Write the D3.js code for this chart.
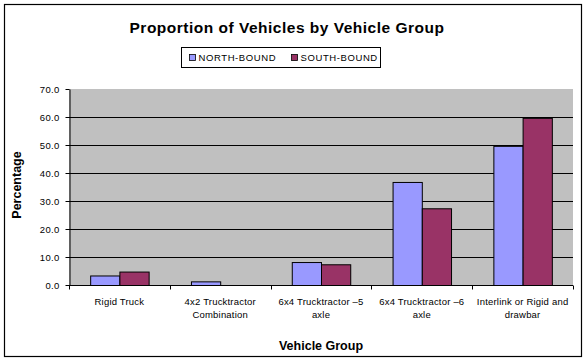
<!DOCTYPE html>
<html>
<head>
<meta charset="utf-8">
<script src="https://cdn.jsdelivr.net/npm/d3@7"></script>
<style>
  body { margin: 0; background: #fff; }
  svg { display: block; font-family: Arial, "Liberation Sans", sans-serif; }
</style>
</head>
<body>
<svg width="587" height="361"></svg>
<script>
// chart data
var categories = [
    ["Rigid Truck"],
    ["4x2 Trucktractor", "Combination"],
    ["6x4 Trucktractor \u20135", "axle"],
    ["6x4 Trucktractor \u20136", "axle"],
    ["Interlink or Rigid and", "drawbar"]
];
var seriesNames = ["NORTH-BOUND", "SOUTH-BOUND"];
var northBound = [3.4, 1.3, 8.2, 36.8, 49.7];
var southBound = [4.8, 0, 7.4, 27.4, 59.7];
var yTicks = [0, 10, 20, 30, 40, 50, 60, 70];
var colors = ["#9999FF", "#993366"];

var svg = d3.select("svg");
var margin = { top: 89, left: 69, right: 14, bottom: 76 },
    width = 587 - margin.left - margin.right,
    height = 361 - margin.top - margin.bottom;

// outer frame
svg.append("rect")
    .attr("x", 4.5).attr("y", 4.5)
    .attr("width", 577).attr("height", 352)
    .attr("fill", "#fff").attr("stroke", "#000").attr("stroke-width", 1.2);

svg.append("text")
    .attr("x", 287).attr("y", 33)
    .attr("text-anchor", "middle")
    .style("font-size", "15.5px").style("font-weight", "bold").style("letter-spacing", "0.5px")
    .text("Proportion of Vehicles by Vehicle Group");

var g = svg.append("g").attr("transform", "translate(" + margin.left + "," + margin.top + ")");

var x0 = d3.scaleBand().domain(d3.range(categories.length)).range([0, width]).paddingInner(0.42).paddingOuter(0.21);
var x1 = d3.scaleBand().domain([0, 1]).range([0, x0.bandwidth()]);
var y = d3.scaleLinear().domain([0, 70]).range([height, 0]);
var xb = d3.scaleBand().domain(d3.range(categories.length)).range([0, width]);

g.append("rect").attr("width", width).attr("height", height).attr("fill", "#C0C0C0");

// gridlines
g.selectAll(".grid").data(yTicks.slice(1, -1)).enter().append("line")
    .attr("x1", 0).attr("x2", width)
    .attr("y1", function(d) { return Math.round(y(d)) + 0.5; })
    .attr("y2", function(d) { return Math.round(y(d)) + 0.5; })
    .attr("stroke", "#000");

var rows = categories.map(function(c, i) { return { i: i, v: [northBound[i], southBound[i]] }; });
var grp = g.selectAll(".cat").data(rows).enter().append("g")
    .attr("transform", function(d) { return "translate(" + x0(d.i) + ",0)"; });
grp.selectAll("rect").data(function(d) { return d.v.map(function(v, k) { return { k: k, v: v }; }); })
    .enter().filter(function(d) { return d.v > 0; }).append("rect")
    .attr("x", function(d) { return x1(d.k) + 0.5; })
    .attr("y", function(d) { return y(d.v) + 0.5; })
    .attr("width", x1.bandwidth())
    .attr("height", function(d) { return height - y(d.v); })
    .attr("fill", function(d) { return colors[d.k]; })
    .attr("stroke", "#000").attr("stroke-width", 1);

// y axis
var yAxis = g.append("g").attr("transform", "translate(0.5,0)")
    .call(d3.axisLeft(y).tickValues(yTicks).tickFormat(d3.format(".1f")).tickSize(4).tickSizeOuter(0));
yAxis.select(".domain").attr("stroke", "#000");
yAxis.selectAll("text").style("font-size", "9.5px").style("letter-spacing", "0.3px").attr("fill", "#000").attr("x", -10);

// x axis
var xAxis = g.append("g").attr("transform", "translate(0," + (height + 0.5) + ")");
xAxis.append("line").attr("x1", 0).attr("x2", width).attr("stroke", "#000");
xAxis.selectAll(".tk").data(d3.range(categories.length + 1)).enter().append("line")
    .attr("x1", function(d) { return Math.round(d * xb.step()) + 0.5; })
    .attr("x2", function(d) { return Math.round(d * xb.step()) + 0.5; })
    .attr("y1", 0).attr("y2", 4).attr("stroke", "#000");
xAxis.selectAll(".lbl").data(categories).enter().append("text")
    .attr("text-anchor", "middle")
    .attr("transform", function(d, i) { return "translate(" + (xb(i) + xb.bandwidth() / 2) + ",0)"; })
    .style("font-size", "9.5px").style("letter-spacing", "0.2px")
    .selectAll("tspan").data(function(d) { return d; }).enter().append("tspan")
    .attr("x", 0).attr("y", function(d, j) { return 19 + j * 13; })
    .text(function(d) { return d; });

svg.append("text")
    .attr("x", 321).attr("y", 350)
    .attr("text-anchor", "middle")
    .style("font-size", "12.5px").style("font-weight", "bold")
    .text("Vehicle Group");

svg.append("text")
    .attr("transform", "translate(21,185) rotate(-90)")
    .attr("text-anchor", "middle")
    .style("font-size", "12.5px").style("font-weight", "bold")
    .text("Percentage");

// legend
var lg = svg.append("g").attr("transform", "translate(181.5,47.5)");
lg.append("rect").attr("width", 199).attr("height", 20).attr("fill", "#fff").attr("stroke", "#000");
var item = lg.selectAll(".it").data(seriesNames).enter().append("g")
    .attr("transform", function(d, i) { return "translate(" + (8 + i * 102) + ",0)"; });
item.append("rect").attr("x", 0).attr("y", 7).attr("width", 6).attr("height", 6)
    .attr("fill", function(d, i) { return colors[i]; }).attr("stroke", "#000").attr("stroke-width", 0.8);
item.append("text").attr("x", 9).attr("y", 13.5)
    .style("font-size", "9.5px").style("letter-spacing", "0.6px")
    .text(function(d) { return d; });
</script>
</body>
</html>
